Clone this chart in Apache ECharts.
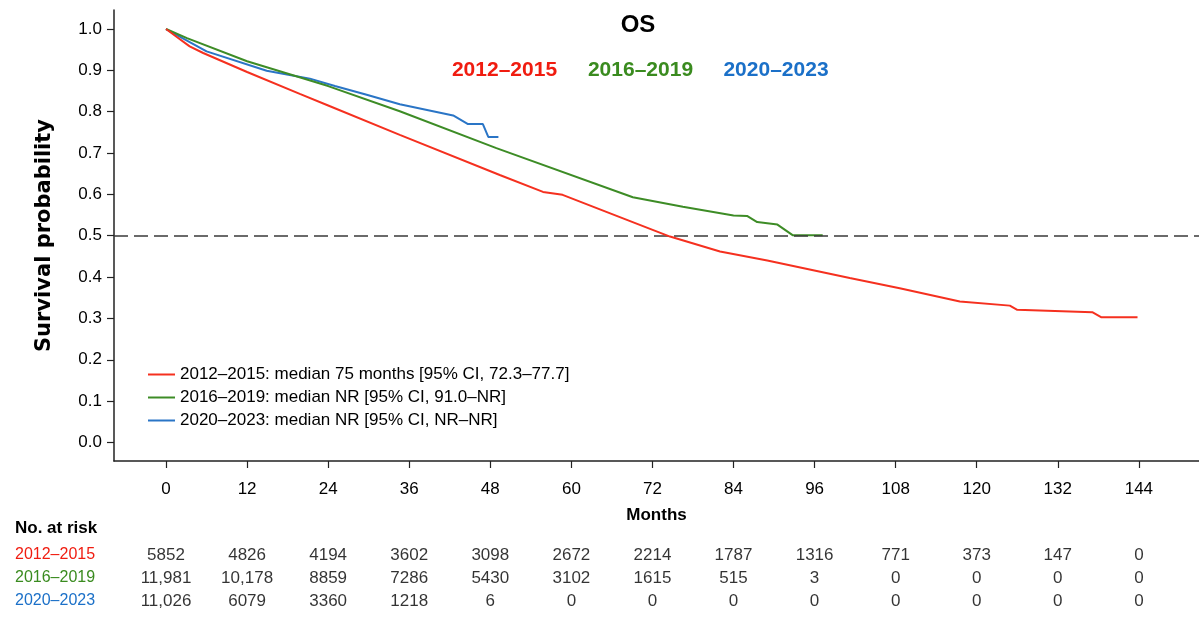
<!DOCTYPE html>
<html>
<head>
<meta charset="utf-8">
<script src="https://cdn.jsdelivr.net/npm/echarts@6/dist/echarts.min.js"></script>
<style>
html,body{margin:0;padding:0;background:#fff;}
#chart{width:1199px;height:633px;}
</style>
</head>
<body>
<div id="chart"></div>
<script>
const groups = ['2012–2015', '2016–2019', '2020–2023'];
const legendNames = [
  '2012–2015: median 75 months [95% CI, 72.3–77.7]',
  '2016–2019: median NR [95% CI, 91.0–NR]',
  '2020–2023: median NR [95% CI, NR–NR]'
];
const lineColors = ['#f5301f', '#3d8c26', '#2a75c6'];
const textColors = ['#f01c10', '#3a8b1f', '#1b70c8'];

const monthTicks = [0, 12, 24, 36, 48, 60, 72, 84, 96, 108, 120, 132, 144];
const survTicks = [0, 0.1, 0.2, 0.3, 0.4, 0.5, 0.6, 0.7, 0.8, 0.9, 1.0];

// [month, survival]
const os2012 = [[0,1.0],[1.5,0.982],[3.5,0.958],[5.5,0.942],[12,0.896],[19.8,0.843],[24,0.815],[34.6,0.744],
  [49.4,0.647],[55.8,0.606],[58.7,0.599],[74.6,0.498],[82,0.462],[89,0.44],[101.2,0.398],[108.6,0.373],
  [117.5,0.341],[124.9,0.331],[126,0.321],[137.1,0.315],[138.4,0.303],[143.8,0.303]];
const os2016 = [[0,1.0],[3.1,0.978],[12,0.922],[24,0.862],[34.6,0.801],[48.9,0.712],[69.1,0.593],
  [76.5,0.57],[84,0.549],[86,0.548],[87.5,0.533],[90.5,0.527],[92.8,0.501],[97.2,0.501]];
const os2020 = [[0,1.0],[6,0.946],[14.9,0.899],[18.3,0.889],[21.3,0.88],[25,0.862],[29.7,0.841],
  [34.6,0.818],[42.5,0.791],[44.7,0.77],[46.9,0.77],[47.7,0.739],[49.2,0.739]];

// number at risk
const risk2012 = [5852, 4826, 4194, 3602, 3098, 2672, 2214, 1787, 1316, 771, 373, 147, 0];
const risk2016 = [11981, 10178, 8859, 7286, 5430, 3102, 1615, 515, 3, 0, 0, 0, 0];
const risk2020 = [11026, 6079, 3360, 1218, 6, 0, 0, 0, 0, 0, 0, 0, 0];

const FONT = "'Liberation Sans',Arial,sans-serif";
const fmt = n => n >= 10000 ? n.toLocaleString('en-US') : String(n);

const curves = [os2012, os2016, os2020];
const risks = [risk2012, risk2016, risk2020];

const riskData = [];
risks.forEach((row, r) => {
  row.forEach((v, i) => riskData.push([monthTicks[i], r, v]));
});

const xMin = -7.7, xMax = 152.9;

const lineSeries = curves.map((d, i) => ({
  name: legendNames[i],
  type: 'line',
  data: d,
  symbol: 'none',
  lineStyle: { color: lineColors[i], width: 2 },
  itemStyle: { color: lineColors[i] },
  z: 3 + (2 - i),
  markLine: i === 0 ? {
    silent: true,
    symbol: 'none',
    label: { show: false },
    lineStyle: { color: '#3a3a3a', type: [14, 6], width: 1.5 },
    data: [{ yAxis: 0.5 }]
  } : undefined
}));

const option = {
  animation: false,
  backgroundColor: '#fff',
  grid: [
    { left: 114, top: 10, width: 1085, height: 451 },
    { left: 114, top: 543.5, width: 1085, height: 69 }
  ],
  xAxis: [
    {
      type: 'value', gridIndex: 0, min: xMin, max: xMax,
      splitLine: { show: false },
      axisLine: { onZero: false, lineStyle: { color: '#222', width: 1.5 } },
      axisTick: { customValues: monthTicks, length: 7, lineStyle: { color: '#222', width: 1.2 } },
      axisLabel: { customValues: monthTicks, margin: 20, color: '#000', fontSize: 17, fontFamily: FONT },
      name: 'Months', nameLocation: 'middle', nameGap: 46,
      nameTextStyle: { color: '#000', fontSize: 17, fontWeight: 'bold', fontFamily: FONT }
    },
    {
      type: 'value', gridIndex: 1, min: xMin, max: xMax, show: false
    }
  ],
  yAxis: [
    {
      type: 'value', gridIndex: 0, min: -0.0448, max: 1.046,
      splitLine: { show: false },
      axisLine: { show: true, onZero: false, lineStyle: { color: '#222', width: 1.5 } },
      axisTick: { show: true, customValues: survTicks, length: 7, lineStyle: { color: '#222', width: 1.2 } },
      axisLabel: { customValues: survTicks, margin: 12, color: '#000', fontSize: 17, fontFamily: FONT,
        formatter: v => v.toFixed(1) },
      name: 'Survival probability', nameLocation: 'middle', nameGap: 59,
      nameTextStyle: { color: '#000', fontSize: 21, fontWeight: 'bold', fontFamily: "'DejaVu Sans',sans-serif" }
    },
    {
      type: 'category', gridIndex: 1, data: groups, inverse: true,
      axisLine: { show: false }, axisTick: { show: false }, splitLine: { show: false },
      axisLabel: { interval: 0, align: 'left', margin: 99, fontSize: 16, fontFamily: FONT,
        color: (v) => textColors[groups.indexOf(v)] }
    }
  ],
  legend: {
    orient: 'vertical', left: 148, top: 365, padding: 0, itemGap: 4,
    itemWidth: 27, itemHeight: 2, icon: 'rect',
    data: legendNames,
    textStyle: { color: '#000', fontSize: 17, fontFamily: FONT, lineHeight: 19 }
  },
  graphic: [
    { type: 'text', x: 638, y: 25, style: { text: 'OS', align: 'center', verticalAlign: 'middle',
      font: "bold 24px " + FONT, fill: '#000' } },
    { type: 'text', x: 504.5, y: 70, style: { text: groups[0], align: 'center', verticalAlign: 'middle',
      font: "bold 21px " + FONT, fill: textColors[0] } },
    { type: 'text', x: 640.5, y: 70, style: { text: groups[1], align: 'center', verticalAlign: 'middle',
      font: "bold 21px " + FONT, fill: textColors[1] } },
    { type: 'text', x: 776, y: 70, style: { text: groups[2], align: 'center', verticalAlign: 'middle',
      font: "bold 21px " + FONT, fill: textColors[2] } },
    { type: 'text', x: 15, y: 528, style: { text: 'No. at risk', align: 'left', verticalAlign: 'middle',
      font: "bold 17px " + FONT, fill: '#000' } }
  ],
  series: lineSeries.concat([{
    type: 'scatter', xAxisIndex: 1, yAxisIndex: 1,
    data: riskData, symbolSize: 0.1, silent: true,
    itemStyle: { color: 'transparent' },
    label: { show: true, position: 'inside', color: '#000', fontSize: 17, fontFamily: FONT,
      formatter: p => fmt(p.value[2]) }
  }])
};

window.addEventListener('load', () => {
  const chart = echarts.init(document.getElementById('chart'));
  chart.setOption(option);
});
</script>
</body>
</html>
